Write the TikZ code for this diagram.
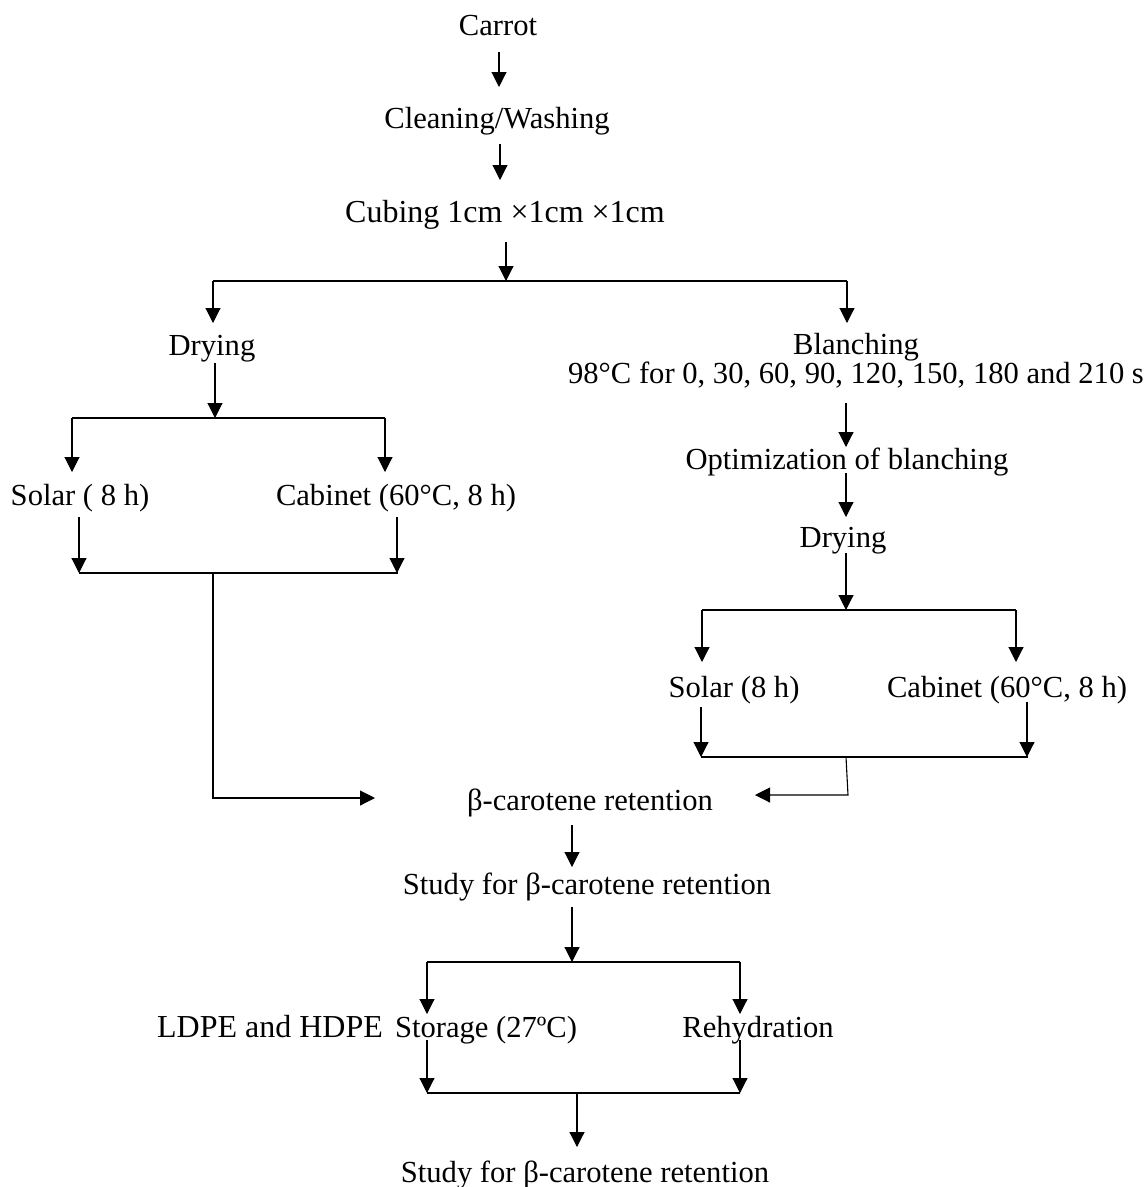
\documentclass[tikz,border=0pt]{standalone}
\usepackage{fontspec}
\setmainfont{Liberation Serif}
\usetikzlibrary{arrows.meta}
\begin{document}
\begin{tikzpicture}[x=1pt,y=-1pt,
  txt/.style={inner sep=0pt, anchor=base, font=\fontsize{30.6}{34}\selectfont},
  big/.style={font=\fontsize{32}{36}\selectfont},
  ln/.style={line width=1.1pt},
  arr/.style={ln, -{Triangle[length=15pt,width=15pt]}}]
\useasboundingbox (0,0) rectangle (1148,1187);
% text nodes
\node[txt] (carrot) at (498,35) {Carrot};
\node[txt] (clean) at (497,128) {Cleaning/Washing};
\node[txt,big] (cube) at (505,222) {Cubing 1cm ×1cm ×1cm};
\node[txt] (dryL) at (212,355) {Drying};
\node[txt] (solarL) at (80,505) {Solar ( 8 h)};
\node[txt] (cabL) at (396,505) {Cabinet (60°C, 8 h)};
\node[txt] (blanch) at (856,354) {Blanching};
\node[txt] (blanchT) at (856,383) {98°C for 0, 30, 60, 90, 120, 150, 180 and 210 s};
\node[txt] (opt) at (847,469) {Optimization of blanching};
\node[txt] (dryR) at (843,547) {Drying};
\node[txt] (solarR) at (734,697) {Solar (8 h)};
\node[txt] (cabR) at (1007,697) {Cabinet (60°C, 8 h)};
\node[txt] (beta) at (590,810) {β-carotene retention};
\node[txt] (study1) at (587,894) {Study for β-carotene retention};
\node[txt,big] (ldpe) at (270,1037) {LDPE and HDPE};
\node[txt] (stor) at (486,1037) {Storage (27ºC)};
\node[txt] (rehy) at (758,1037) {Rehydration};
\node[txt] (study2) at (585,1182) {Study for β-carotene retention};
% junction coordinates
\coordinate (c1a) at (499,52);   \coordinate (c1b) at (499,87);
\coordinate (c2a) at (500,144);  \coordinate (c2b) at (500,180);
\coordinate (c3a) at (506,242);  \coordinate (c3b) at (506,281);
\coordinate (h1l) at (213,281);  \coordinate (h1r) at (847,281);
\coordinate (dLin) at (213,323); \coordinate (bIn) at (847,323);
\coordinate (dLa) at (215,363);  \coordinate (dLb) at (215,418);
\coordinate (h2l) at (72,418);   \coordinate (h2r) at (385,418);
\coordinate (sLin) at (72,472);  \coordinate (cLin) at (385,472);
\coordinate (sLa) at (79,517);   \coordinate (sLb) at (79,573);
\coordinate (cLa) at (397,517);  \coordinate (cLb) at (397,573);
\coordinate (h3r) at (398,573);  \coordinate (h3m) at (213,573);
\coordinate (lCorner) at (213,798); \coordinate (betaL) at (375,798);
\coordinate (bla) at (846,403);  \coordinate (blb) at (846,447);
\coordinate (opa) at (846,473);  \coordinate (opb) at (846,517);
\coordinate (dra) at (846,553);  \coordinate (drb) at (846,610);
\coordinate (h4l) at (702,610);  \coordinate (h4r) at (1016,610);
\coordinate (sRin) at (702,662); \coordinate (cRin) at (1016,662);
\coordinate (sRa) at (701,707);  \coordinate (sRb) at (701,757);
\coordinate (cRa) at (1027,702); \coordinate (cRb) at (1027,757);
\coordinate (h5r) at (1028,757); \coordinate (h5m) at (846,757);
\coordinate (rCorner) at (848,795); \coordinate (betaR) at (755,795);
\coordinate (bea) at (572,825);  \coordinate (beb) at (572,867);
\coordinate (sta) at (572,907);  \coordinate (stb) at (572,962);
\coordinate (h6l) at (427,962);  \coordinate (h6r) at (740,962);
\coordinate (storIn) at (427,1014); \coordinate (rehyIn) at (740,1014);
\coordinate (stoa) at (427,1040); \coordinate (stob) at (427,1093);
\coordinate (rea) at (740,1040); \coordinate (reb) at (740,1093);
\coordinate (h7m) at (577,1093); \coordinate (fin) at (577,1147);
% connectors
\draw[arr] (c1a) -- (c1b);
\draw[arr] (c2a) -- (c2b);
\draw[arr] (c3a) -- (c3b);
\draw[ln] (h1l) -- (h1r);
\draw[arr] (h1l) -- (dLin);
\draw[arr] (h1r) -- (bIn);
\draw[arr] (dLa) -- (dLb);
\draw[ln] (h2l) -- (h2r);
\draw[arr] (h2l) -- (sLin);
\draw[arr] (h2r) -- (cLin);
\draw[arr] (sLa) -- (sLb);
\draw[arr] (cLa) -- (cLb);
\draw[ln] (sLb) -- (h3r);
\draw[arr] (h3m) -- (lCorner) -- (betaL);
\draw[arr] (bla) -- (blb);
\draw[arr] (opa) -- (opb);
\draw[arr] (dra) -- (drb);
\draw[ln] (h4l) -- (h4r);
\draw[arr] (h4l) -- (sRin);
\draw[arr] (h4r) -- (cRin);
\draw[arr] (sRa) -- (sRb);
\draw[arr] (cRa) -- (cRb);
\draw[ln] (sRb) -- (h5r);
\draw[arr] (h5m) -- (rCorner) -- (betaR);
\draw[arr] (bea) -- (beb);
\draw[arr] (sta) -- (stb);
\draw[ln] (h6l) -- (h6r);
\draw[arr] (h6l) -- (storIn);
\draw[arr] (h6r) -- (rehyIn);
\draw[arr] (stoa) -- (stob);
\draw[arr] (rea) -- (reb);
\draw[ln] (stob) -- (reb);
\draw[arr] (h7m) -- (fin);
\end{tikzpicture}
\end{document}
